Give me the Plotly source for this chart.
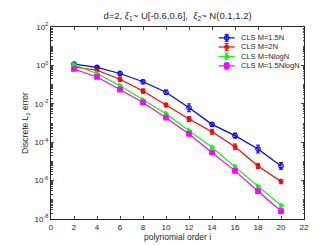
import plotly.graph_objects as go

orders = [2, 4, 6, 8, 10, 12, 14, 16, 18, 20]

err_15N = [1.17, 0.79, 0.38, 0.14, 0.040, 0.0062, 8.5e-4, 2.2e-4, 4.4e-5, 5.8e-6]
err_2N = [0.83, 0.56, 0.19, 0.046, 0.0087, 1.6e-3, 3.5e-4, 5.8e-5, 5.8e-6, 9.0e-7]
err_NlogN = [1.07, 0.38, 0.087, 0.0155, 0.0030, 3.9e-4, 5.4e-5, 5.2e-6, 5.0e-7, 5.0e-8]
err_15NlogN = [0.65, 0.25, 0.055, 0.0118, 0.0019, 2.7e-4, 2.9e-5, 3.2e-6, 2.8e-7, 2.6e-8]

# relative error-bar half widths
rel_15N = [0.15, 0.15, 0.2, 0.25, 0.3, 0.6, 0.25, 0.35, 0.6, 0.5]
rel_2N = [0.1, 0.15, 0.3, 0.3, 0.25, 0.35, 0.35, 0.4, 0.35, 0.3]
rel_NlogN = [0.1, 0.1, 0.1, 0.1, 0.1, 0.1, 0.1, 0.1, 0.1, 0.15]
rel_15NlogN = [0.1, 0.1, 0.1, 0.1, 0.1, 0.1, 0.1, 0.1, 0.1, 0.15]

names = ["CLS M=1.5N", "CLS M=2N", "CLS M=NlogN", "CLS M=1.5NlogN"]
series = [err_15N, err_2N, err_NlogN, err_15NlogN]
rels = [rel_15N, rel_2N, rel_NlogN, rel_15NlogN]
colors = ["#0000ff", "#ff0000", "#00ff00", "#ff00ff"]
symbols = ["circle-open", "asterisk-open", "triangle-right", "square"]

FONT = "Liberation Sans, Arial, sans-serif"
TXT = "#262626"

fig = go.Figure()
for name, ys, rel, c, s in zip(names, series, rels, colors, symbols):
    fig.add_trace(go.Scatter(
        x=orders, y=ys, name=name, mode="lines+markers", showlegend=False,
        line=dict(color=c, width=1.2),
        marker=dict(symbol=s, size=4.5, color=c, line=dict(color=c, width=1.2)),
        error_y=dict(type="data", symmetric=False,
                     array=[y * r for y, r in zip(ys, rel)],
                     arrayminus=[y * r / (1 + r) for y, r in zip(ys, rel)],
                     color=c, thickness=1, width=2),
    ))

# compact legend drawn on an invisible overlay axis (0..1 over the plot area)
L, R, T, B = 43, 296, 19, 219
leg_y = [30.3, 39.8, 49.6, 59.5]
for name, c, s, py in zip(names, colors, symbols, leg_y):
    yy = (B - py) / (B - T)
    x0, x1 = (210.7 - L) / (R - L), (226.7 - L) / (R - L)
    fig.add_trace(go.Scatter(
        x=[x0, (x0 + x1) / 2, x1], y=[yy, yy, yy], xaxis="x2", yaxis="y2",
        mode="lines", line=dict(color=c, width=1.2), showlegend=False, hoverinfo="skip"))
    fig.add_trace(go.Scatter(
        x=[(x0 + x1) / 2], y=[yy], xaxis="x2", yaxis="y2",
        mode="markers", marker=dict(symbol=s, size=4.5, color=c, line=dict(color=c, width=1.2)),
        error_y=dict(type="constant", value=0.018, color=c, thickness=1, width=2),
        showlegend=False, hoverinfo="skip"))
    fig.add_annotation(x=(231 - L) / (R - L), y=yy, xref="x2", yref="y2", text=name,
                       showarrow=False, xanchor="left", yanchor="middle",
                       font=dict(size=7.5, color=TXT, family=FONT))

ytick_vals = [1e2, 1e0, 1e-2, 1e-4, 1e-6, 1e-8]
ytick_text = ["10<sup>2</sup>", "10<sup>0</sup>", "10<sup>-2</sup>", "10<sup>-4</sup>",
              "10<sup>-6</sup>", "10<sup>-8</sup>"]
xtick_vals = list(range(0, 23, 2))

fig.update_layout(
    width=327, height=245,
    margin=dict(l=L, r=327 - R, t=T, b=245 - B),
    paper_bgcolor="white", plot_bgcolor="white",
    font=dict(family=FONT, size=8, color=TXT),
    title=dict(text="d=2, <i>ξ</i><sub>1</sub>~ U[-0.6,0.6],  <i>ξ</i><sub>2</sub>~ N(0.1,1.2)",
               x=0.5, xref="paper", xanchor="center", y=0.97, yanchor="middle",
               font=dict(size=9.5, color=TXT)),
    showlegend=False,
    xaxis=dict(range=[0, 22], tickvals=xtick_vals, ticks="inside", ticklen=3,
               tickfont=dict(size=8),
               showline=True, linecolor=TXT, linewidth=1, mirror="ticks",
               showgrid=False, zeroline=False,
               title=dict(text="polynomial order i", standoff=3, font=dict(size=8.5))),
    yaxis=dict(type="log", range=[-8, 2], tickvals=ytick_vals, ticktext=ytick_text,
               ticks="inside", ticklen=3, tickfont=dict(size=8),
               minor=dict(ticks="inside", ticklen=1.5, dtick="D1", showgrid=False),
               showline=True, linecolor=TXT, linewidth=1, mirror="ticks",
               showgrid=False, zeroline=False,
               title=dict(text="Discrete L<sub>2</sub> error", standoff=4, font=dict(size=8.5))),
    xaxis2=dict(overlaying="x", range=[0, 1], visible=False, fixedrange=True),
    yaxis2=dict(overlaying="y", range=[0, 1], visible=False, fixedrange=True),
)

fig.write_html("out.html")
